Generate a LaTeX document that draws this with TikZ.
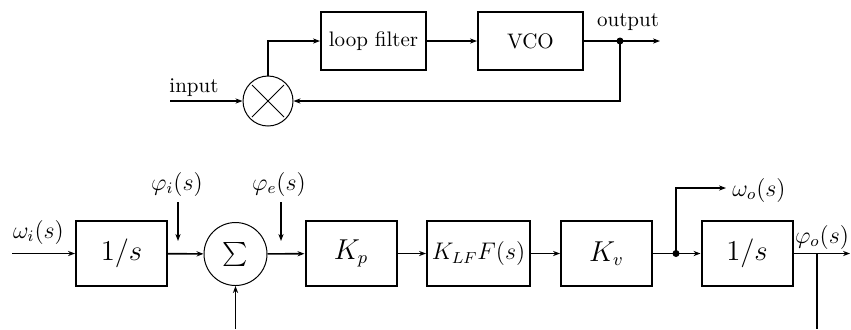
\documentclass[tikz,border=0pt]{standalone}
\usepackage{amsmath}
\usetikzlibrary{arrows.meta}
\tikzset{
  blk/.style={draw, line width=1pt, minimum width=45.5pt, minimum height=32.5pt, inner sep=0pt},
  junc/.style={draw, circle, line width=0.5pt, inner sep=0pt},
  sig/.style={line width=0.8pt, -{Stealth[length=3.5pt,width=2.6pt]}},
  wire/.style={line width=0.8pt},
  blkfont/.style={font=\fontsize{13.5}{16}\selectfont},
  txtfont/.style={font=\fontsize{10.5}{12}\selectfont},
}

\begin{document}
\begin{tikzpicture}[x=0.5pt, y=-0.5pt]
      \useasboundingbox (0,0) rectangle (851,329);

      \node[blk, txtfont, minimum width=52.5pt, minimum height=29pt] (filter) at (373.5,41) {loop filter};
      \node[blk, txtfont, minimum width=52.5pt, minimum height=29pt] (vco) at (530.5,41) {VCO};
      \node[junc, minimum size=25pt] (mix) at (268,101) {};
      \draw[line width=0.5pt] (mix.center) +(-16,-16) -- +(16,16) (mix.center) +(-16,16) -- +(16,-16);

      \coordinate (in) at (170,101);
      \coordinate (tap) at (620,41);
      \coordinate (out) at (660,41);
      \draw[sig] (in) -- (mix.west);
      \draw[sig] (mix.north) |- (filter.west);
      \draw[sig] (filter) -- (vco);
      \draw[sig] (vco) -- (out);
      \draw[sig] (tap) |- (mix.east);
      \fill (tap) circle [radius=1.75pt];
      \node[txtfont, anchor=base] (inlbl) at (194,92) {input};
      \node[txtfont, anchor=base] (outlbl) at (628,26) {output};

      \node[blk, blkfont] (intA) at (121.5,253.5) {$1/s$};
      \node[junc, minimum size=31.5pt, font=\large] (sum) at (235.5,254) {$\sum$};
      \node[blk, blkfont] (kp) at (351,253.5) {$K_p$};
      \node[blk, font=\large, minimum width=51.5pt] (klf) at (478.5,253.5) {$K_{LF}F(s)$};
      \node[blk, blkfont] (kv) at (606.5,253.5) {$K_v$};
      \node[blk, blkfont] (intB) at (747,253.5) {$1/s$};

      \coordinate (win) at (12,253.5);
      \coordinate (pout) at (850,253.5);
      \coordinate (wtap) at (676,253.5);
      \coordinate (wout) at (726,188);
      \coordinate (sumfb) at (235.5,329);
      \coordinate (ptap) at (817,253.5);
      \coordinate (pfb) at (817,329);
      \coordinate (phiitop) at (178,202);
      \coordinate (phiibot) at (178,241);
      \coordinate (phietop) at (281,202);
      \coordinate (phiebot) at (281,241);

      \draw[sig] (win) -- (intA);
      \draw[sig] (intA) -- (sum);
      \draw[sig] (sum) -- (kp);
      \draw[sig] (kp) -- (klf);
      \draw[sig] (klf) -- (kv);
      \draw[sig] (kv) -- (intB);
      \draw[sig] (intB) -- (pout);
      \draw[sig] (wtap) |- (wout);
      \draw[sig] (sumfb) -- (sum.south);
      \draw[wire] (ptap) -- (pfb);
      \draw[sig] (phiitop) -- (phiibot);
      \draw[sig] (phietop) -- (phiebot);
      \fill (wtap) circle [radius=1.75pt];

      \node[font=\large] (wi) at (38.5,232) {$\omega_i(s)$};
      \node[font=\large] (phii) at (177,184) {$\varphi_i(s)$};
      \node[font=\large] (phie) at (279,184) {$\varphi_e(s)$};
      \node[font=\large, anchor=west, inner sep=0pt] (wo) at (732,190) {$\omega_o(s)$};
      \node[font=\large] (phio) at (822,237) {$\varphi_o(s)$};
    \end{tikzpicture}
\end{document}
